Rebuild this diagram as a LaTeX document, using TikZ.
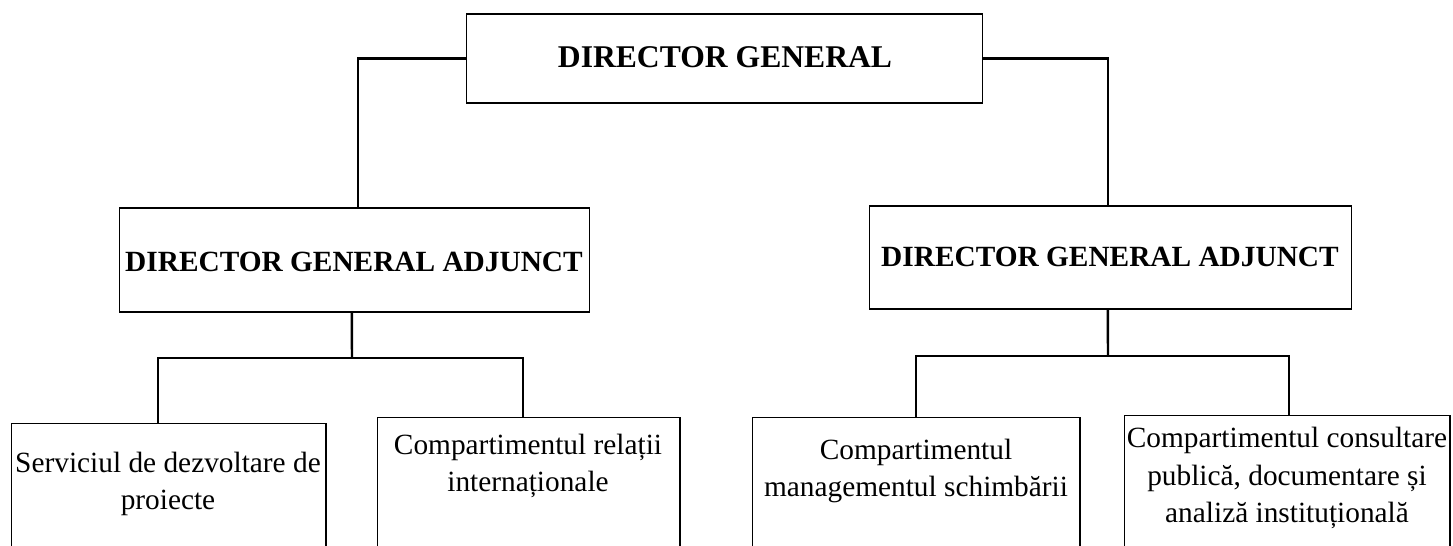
\documentclass[tikz,border=0pt]{standalone}
\usepackage{fontspec}
\setmainfont{Liberation Serif}
\begin{document}
\begin{tikzpicture}[
	x=0.02cm, y=-0.02cm,
	box/.style={ rectangle, draw, line width=0.6pt, inner sep=0pt },
	unit/.style={ box, anchor=north, minimum height=2.8cm },
	head/.style={ font=\bfseries\fontsize{18}{21}\selectfont },
	deputy/.style={ font=\bfseries\fontsize{16.7}{21.5}\selectfont },
	unittext/.style={ align=center, inner sep=0pt, font=\fontsize{16.7}{21.5}\selectfont },
	link/.style={ line width=1.4pt }
]
	\useasboundingbox (0,0) rectangle (1453,546);
	\clip (0,0) rectangle (1453,546);
	% top and deputies
	\node at (724.5,58.5) (dg) [box,minimum width=10.34cm,minimum height=1.78cm] {};
	\node at (725,57) (dgtext) [head] {DIRECTOR GENERAL};
	\node at (354.5,260) (dga1) [box,minimum width=9.42cm,minimum height=2.08cm] {};
	\node at (354,262) (dga1text) [deputy] {DIRECTOR GENERAL ADJUNCT};
	\node at (1110.5,257.5) (dga2) [box,minimum width=9.66cm,minimum height=2.06cm] {};
	\node at (1110,257) (dga2text) [deputy] {DIRECTOR GENERAL ADJUNCT};
	% units
	\node at (168.5,423) (ser) [unit,minimum width=6.3cm] {};
	\node at (168,484) (sertext) [unittext] {Serviciul de dezvoltare de\\proiecte};
	\node at (528.5,417) (rel) [unit,minimum width=6.06cm] {};
	\node at (528,466) (reltext) [unittext] {Compartimentul relații\\internaționale};
	\node at (916,417) (sch) [unit,minimum width=6.56cm] {};
	\node at (916,471) (schtext) [unittext] {Compartimentul\\managementul schimbării};
	\node at (1287,415) (con) [unit,minimum width=6.52cm] {};
	\node at (1287,478) (context) [unittext] {Compartimentul consultare\\publică, documentare și\\analiză instituțională};
	% connectors
	\coordinate (busl) at (352,358);
	\coordinate (busr) at (1108,356);
	\draw[link] (dg.west) -| ([xshift=2pt]dga1.north);
	\draw[link] (dg.east) -| ([xshift=-1.5pt]dga2.north);
	\draw[link] ([xshift=-1.5pt]dga1.south) -- (busl);
	\draw[link] ([xshift=-6pt]ser.north) |- (busl) -| ([xshift=-3pt]rel.north);
	\draw[link] ([xshift=-1.5pt]dga2.south) -- (busr);
	\draw[link] (sch.north) |- (busr) -| ([xshift=1pt]con.north);
\end{tikzpicture}
\end{document}
